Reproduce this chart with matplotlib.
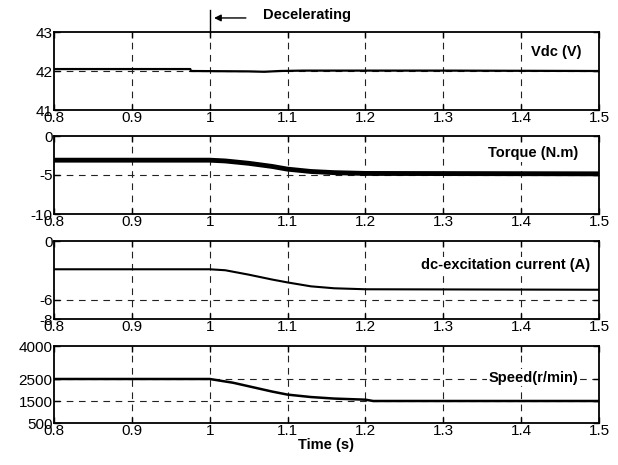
import matplotlib
matplotlib.use("Agg")
import matplotlib.pyplot as plt

plt.rcParams["font.family"] = ["Liberation Sans", "DejaVu Sans"]
plt.rcParams["axes.unicode_minus"] = False

# Vdc (V)
t_vdc = [0.8, 0.975, 0.976, 1.05, 1.07, 1.09, 1.12, 1.3, 1.5]
vdc = [42.05, 42.05, 42.0, 41.99, 41.98, 42.0, 42.01, 42.01, 42.0]

# Torque (N.m)
t_torque = [0.8, 1.0, 1.02, 1.05, 1.08, 1.1, 1.13, 1.16, 1.2, 1.5]
torque = [-3.1, -3.1, -3.2, -3.5, -3.9, -4.25, -4.55, -4.7, -4.8, -4.85]

# dc-excitation current (A)
t_curr = [0.8, 1.0, 1.02, 1.05, 1.08, 1.1, 1.13, 1.16, 1.2, 1.5]
current = [-2.9, -2.9, -3.0, -3.45, -3.95, -4.25, -4.65, -4.85, -4.95, -5.0]

# Speed (r/min)
t_speed = [0.8, 1.0, 1.03, 1.05, 1.08, 1.1, 1.13, 1.16, 1.2, 1.21, 1.5]
speed = [2500, 2500, 2330, 2170, 1930, 1790, 1680, 1610, 1560, 1500, 1500]

x_ticks = [0.8, 0.9, 1.0, 1.1, 1.2, 1.3, 1.4, 1.5]
x_labels = ["0.8", "0.9", "1", "1.1", "1.2", "1.3", "1.4", "1.5"]

panels = [
    dict(t=t_vdc, y=vdc, lw=1.6, ylim=(41, 43), yticks=[41, 42, 43],
         ygrid=[42], label="Vdc (V)", lx=1.477, ly=42.49),
    dict(t=t_torque, y=torque, lw=3.5, ylim=(-10, 0), yticks=[-10, -5, 0],
         ygrid=[-5], label="Torque (N.m)", lx=1.473, ly=-2.2),
    dict(t=t_curr, y=current, lw=1.5, ylim=(-8, 0), yticks=[-8, -6, 0],
         ygrid=[-6], label="dc-excitation current (A)", lx=1.488, ly=-2.46),
    dict(t=t_speed, y=speed, lw=1.8, ylim=(500, 4000),
         yticks=[500, 1500, 2500, 4000], ygrid=[1500, 2500],
         label="Speed(r/min)", lx=1.473, ly=2550),
]

W, H = 618, 465
fig = plt.figure(figsize=(W / 100, H / 100), dpi=100)
tops = [32, 136, 241, 346]
bottoms = [110, 214, 319, 423]

axes = []
for p, top, bot in zip(panels, tops, bottoms):
    ax = fig.add_axes([54 / W, 1 - bot / H, 545 / W, (bot - top) / H])
    ax.plot(p["t"], p["y"], color="black", lw=p["lw"], zorder=3)
    ax.set_xlim(0.8, 1.5)
    ax.set_ylim(*p["ylim"])
    ax.set_xticks(x_ticks)
    ax.set_xticklabels(x_labels)
    ax.set_yticks(p["yticks"])
    for xv in x_ticks[1:-1]:
        ax.axvline(xv, color="#222222", lw=0.8, dashes=(6, 5), zorder=1)
    for yv in p["ygrid"]:
        ax.axhline(yv, color="#222222", lw=0.8, dashes=(6, 5), zorder=1)
    ax.tick_params(direction="in", top=True, right=True, length=4,
                   labelsize=11, pad=1, width=1)
    for s in ax.spines.values():
        s.set_linewidth(1.3)
    ax.text(p["lx"], p["ly"], p["label"], ha="right", va="center",
            fontsize=10.5, fontweight="bold", zorder=4,
            bbox=dict(facecolor="white", edgecolor="none", pad=1))
    axes.append(ax)

axes[-1].set_xlabel("Time (s)", fontsize=10.5, fontweight="bold", labelpad=0)

# Decelerating marker
top_ax = axes[0]
top_ax.plot([1.0, 1.0], [43, 43.56], color="black", lw=1, clip_on=False)
top_ax.annotate("", xy=(1.002, 43.36), xytext=(1.05, 43.36),
                arrowprops=dict(arrowstyle="-|>", color="black", lw=1,
                                mutation_scale=10),
                annotation_clip=False)
top_ax.text(1.068, 43.44, "Decelerating", ha="left", va="center",
            fontsize=10.5, fontweight="bold")

fig.savefig("out.png", dpi=100)
